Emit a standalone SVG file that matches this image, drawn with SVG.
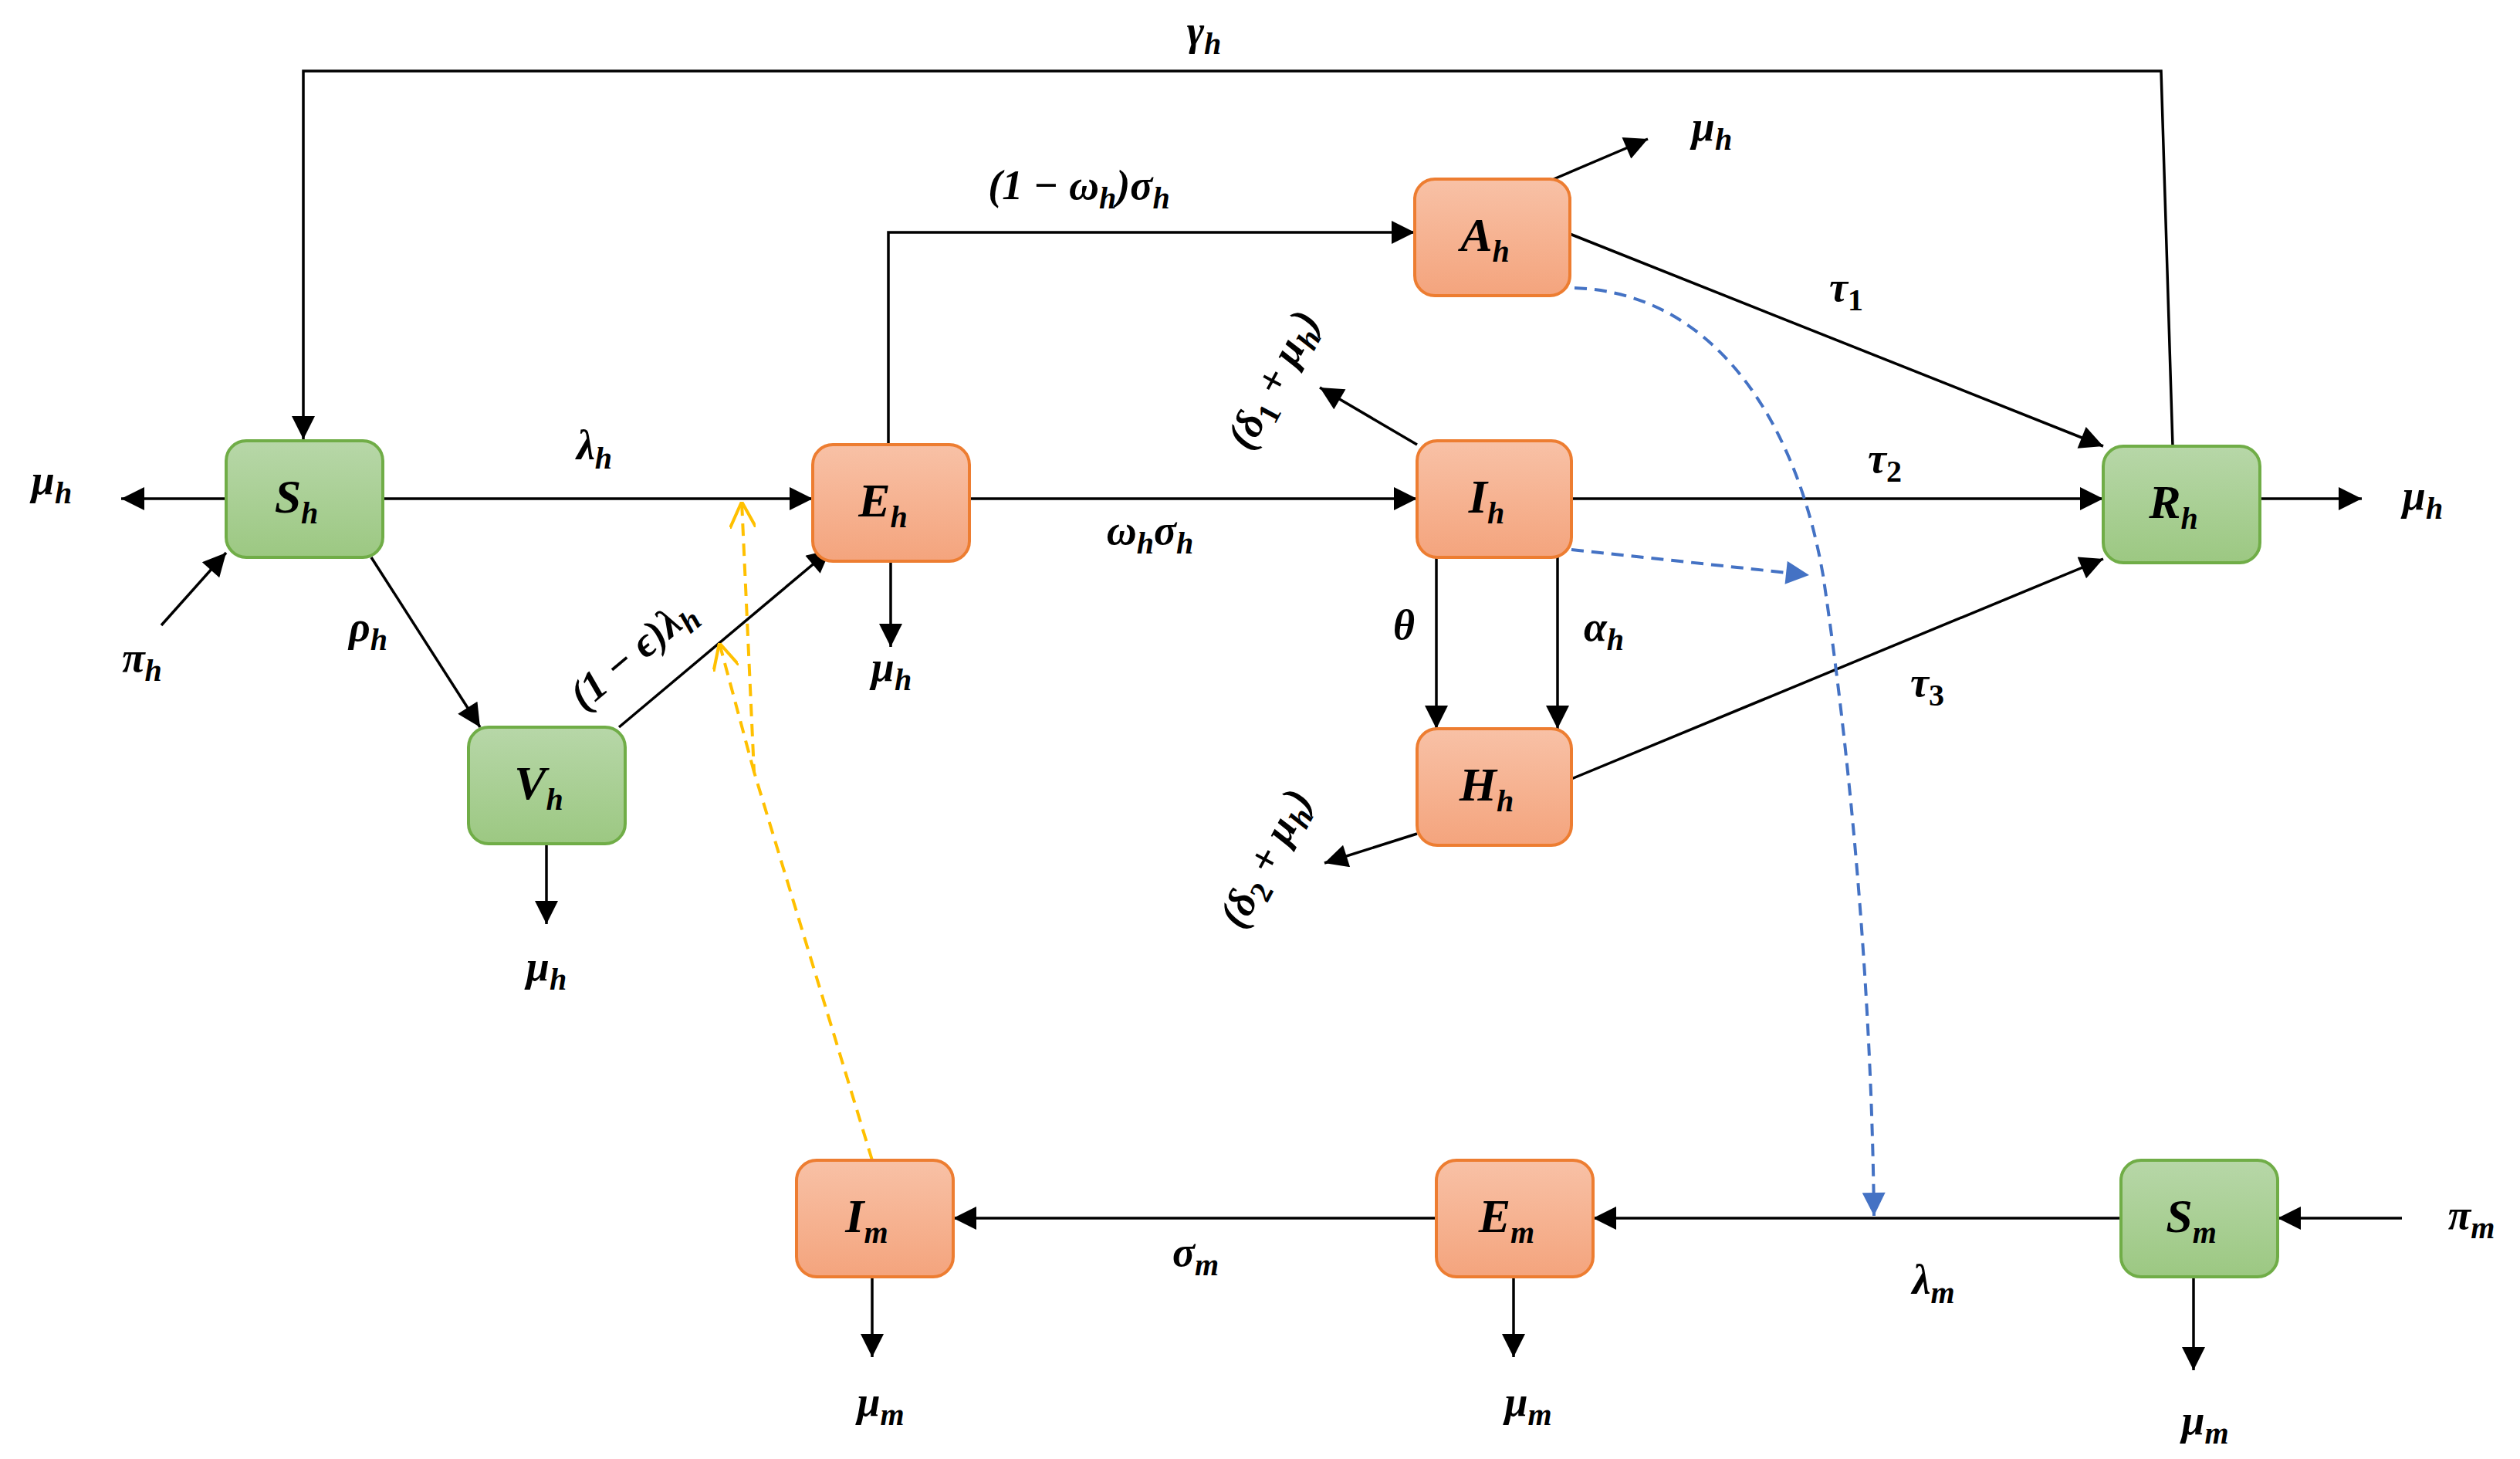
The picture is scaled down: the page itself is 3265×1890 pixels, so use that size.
<svg xmlns="http://www.w3.org/2000/svg" width="3265" height="1890" viewBox="0 0 3265 1890">
<style>
text{font-family:"Liberation Serif","DejaVu Serif",serif;font-weight:bold;font-style:italic;font-size:54px;fill:#000;text-anchor:middle}
.n{font-size:62px}
.s{font-size:40px}
.up{font-style:normal}
.c{fill:none;stroke:#000;stroke-width:3.5}
.b{fill:none;stroke:#4472C4;stroke-width:4;stroke-dasharray:16 10}
.y{fill:none;stroke:#FFC000;stroke-width:4;stroke-dasharray:16 10}
.g{fill:url(#gg);stroke:#70AD47;stroke-width:4}
.o{fill:url(#go);stroke:#ED7D31;stroke-width:4}
</style>
<defs>
<linearGradient id="gg" x1="0" y1="0" x2="0" y2="1"><stop offset="0" stop-color="#B7D7A8"/><stop offset="1" stop-color="#9CC882"/></linearGradient>
<linearGradient id="go" x1="0" y1="0" x2="0" y2="1"><stop offset="0" stop-color="#F8C1A6"/><stop offset="1" stop-color="#F4A47D"/></linearGradient>
<marker id="a" viewBox="0 0 10 10" refX="10" refY="5" markerWidth="34" markerHeight="30" markerUnits="userSpaceOnUse" orient="auto"><path d="M0,0L10,5L0,10z" fill="#000"/></marker>
<marker id="ab" viewBox="0 0 10 10" refX="10" refY="5" markerWidth="34" markerHeight="30" markerUnits="userSpaceOnUse" orient="auto"><path d="M0,0L10,5L0,10z" fill="#4472C4"/></marker>
<marker id="ay" viewBox="0 0 10 10" refX="10" refY="5" markerWidth="34" markerHeight="34" markerUnits="userSpaceOnUse" orient="auto"><path d="M0,0L10,5L0,10" fill="none" stroke="#FFC000" stroke-width="1.2"/></marker>
</defs>
<g id="connectors">
<path class="c" d="M2815,578L2800,92L393,92L393,569" marker-end="url(#a)"/>
<path class="c" d="M293,646L157,646" marker-end="url(#a)"/>
<path class="c" d="M209,810L293,716" marker-end="url(#a)"/>
<path class="c" d="M496,646L1053,646" marker-end="url(#a)"/>
<path class="c" d="M481,722L622,942" marker-end="url(#a)"/>
<path class="c" d="M802,942L1076,712" marker-end="url(#a)"/>
<path class="c" d="M708,1093L708,1197" marker-end="url(#a)"/>
<path class="c" d="M1154,726L1154,838" marker-end="url(#a)"/>
<path class="c" d="M1151,576L1151,301L1833,301" marker-end="url(#a)"/>
<path class="c" d="M1256,646L1836,646" marker-end="url(#a)"/>
<path class="c" d="M2013,232L2135,180" marker-end="url(#a)"/>
<path class="c" d="M2034,303L2725,578" marker-end="url(#a)"/>
<path class="c" d="M1836,576L1710,502" marker-end="url(#a)"/>
<path class="c" d="M2036,646L2725,646" marker-end="url(#a)"/>
<path class="c" d="M1861,722L1861,944" marker-end="url(#a)"/>
<path class="c" d="M2018,722L2018,944" marker-end="url(#a)"/>
<path class="c" d="M2036,1009L2725,724" marker-end="url(#a)"/>
<path class="c" d="M1836,1080L1716,1118" marker-end="url(#a)"/>
<path class="c" d="M2928,646L3060,646" marker-end="url(#a)"/>
<path class="c" d="M2748,1578L2064,1578" marker-end="url(#a)"/>
<path class="c" d="M1861,1578L1235,1578" marker-end="url(#a)"/>
<path class="c" d="M3112,1578L2951,1578" marker-end="url(#a)"/>
<path class="c" d="M1130,1653L1130,1758" marker-end="url(#a)"/>
<path class="c" d="M1961,1653L1961,1758" marker-end="url(#a)"/>
<path class="c" d="M2842,1653L2842,1775" marker-end="url(#a)"/>
<path class="b" d="M2040,373C2230,380 2330,560 2362,745C2400,1000 2425,1300 2428,1575" marker-end="url(#ab)"/>
<path class="b" d="M2036,712L2344,745" marker-end="url(#ab)"/>
<path class="y" d="M1130,1503L977,1000L961,650" marker-end="url(#ay)"/>
<path class="y" d="M977,1000L932,833" marker-end="url(#ay)"/>
</g>
<g id="Sh"><rect class="g" x="293" y="571" width="203" height="151" rx="26"/><text class="n" x="384" y="664">S<tspan class="s" dy="14">h</tspan></text></g>
<g id="Vh"><rect class="g" x="607" y="942" width="203" height="151" rx="26"/><text class="n" x="698" y="1035">V<tspan class="s" dy="14">h</tspan></text></g>
<g id="Eh"><rect class="o" x="1053" y="576" width="203" height="151" rx="26"/><text class="n" x="1144" y="669">E<tspan class="s" dy="14">h</tspan></text></g>
<g id="Ah"><rect class="o" x="1833" y="232" width="201" height="151" rx="26"/><text class="n" x="1924" y="325">A<tspan class="s" dy="14">h</tspan></text></g>
<g id="Ih"><rect class="o" x="1836" y="571" width="200" height="151" rx="26"/><text class="n" x="1926" y="664">I<tspan class="s" dy="14">h</tspan></text></g>
<g id="Hh"><rect class="o" x="1836" y="944" width="200" height="151" rx="26"/><text class="n" x="1926" y="1037">H<tspan class="s" dy="14">h</tspan></text></g>
<g id="Rh"><rect class="g" x="2725" y="578" width="203" height="151" rx="26"/><text class="n" x="2816" y="671">R<tspan class="s" dy="14">h</tspan></text></g>
<g id="Im"><rect class="o" x="1032" y="1503" width="203" height="151" rx="26"/><text class="n" x="1123" y="1596">I<tspan class="s" dy="14">m</tspan></text></g>
<g id="Em"><rect class="o" x="1861" y="1503" width="203" height="151" rx="26"/><text class="n" x="1952" y="1596">E<tspan class="s" dy="14">m</tspan></text></g>
<g id="Sm"><rect class="g" x="2748" y="1503" width="203" height="151" rx="26"/><text class="n" x="2839" y="1596">S<tspan class="s" dy="14">m</tspan></text></g>
<g id="labels">
<text x="1560" y="58">γ<tspan class="s" dy="12">h</tspan></text>
<text x="67" y="640">μ<tspan class="s" dy="12">h</tspan></text>
<text x="184" y="870">π<tspan class="s" dy="12">h</tspan></text>
<text x="770" y="595">λ<tspan class="s" dy="12">h</tspan></text>
<text x="477" y="830">ρ<tspan class="s" dy="12">h</tspan></text>
<text transform="translate(830,860) rotate(-40)">(1 − ϵ)λ<tspan class="s" dy="12">h</tspan></text>
<text x="708" y="1270">μ<tspan class="s" dy="12">h</tspan></text>
<text x="1155" y="882">μ<tspan class="s" dy="12">h</tspan></text>
<text x="1398" y="258">(1 − ω<tspan class="s" dy="12">h</tspan><tspan dy="-12">)σ</tspan><tspan class="s" dy="12">h</tspan></text>
<text x="1490" y="705">ω<tspan class="s" dy="12">h</tspan><tspan dy="-12">σ</tspan><tspan class="s" dy="12">h</tspan></text>
<text x="2218" y="182">μ<tspan class="s" dy="12">h</tspan></text>
<text x="2392" y="390">τ<tspan class="s up" dy="12">1</tspan></text>
<text transform="translate(1665,500) rotate(-62)">(δ<tspan class="s up" dy="12">1</tspan><tspan dy="-12"> + μ</tspan><tspan class="s" dy="12">h</tspan><tspan dy="-12">)</tspan></text>
<text x="2442" y="612">τ<tspan class="s up" dy="12">2</tspan></text>
<text x="1819" y="828">θ</text>
<text x="2078" y="830">α<tspan class="s" dy="12">h</tspan></text>
<text x="2497" y="902">τ<tspan class="s up" dy="12">3</tspan></text>
<text transform="translate(1655,1120) rotate(-62)">(δ<tspan class="s up" dy="12">2</tspan><tspan dy="-12"> + μ</tspan><tspan class="s" dy="12">h</tspan><tspan dy="-12">)</tspan></text>
<text x="3139" y="660">μ<tspan class="s" dy="12">h</tspan></text>
<text x="2505" y="1676">λ<tspan class="s" dy="12">m</tspan></text>
<text x="1549" y="1640">σ<tspan class="s" dy="12">m</tspan></text>
<text x="3202" y="1592">π<tspan class="s" dy="12">m</tspan></text>
<text x="1141" y="1834">μ<tspan class="s" dy="12">m</tspan></text>
<text x="1980" y="1834">μ<tspan class="s" dy="12">m</tspan></text>
<text x="2857" y="1858">μ<tspan class="s" dy="12">m</tspan></text>
</g>
</svg>
